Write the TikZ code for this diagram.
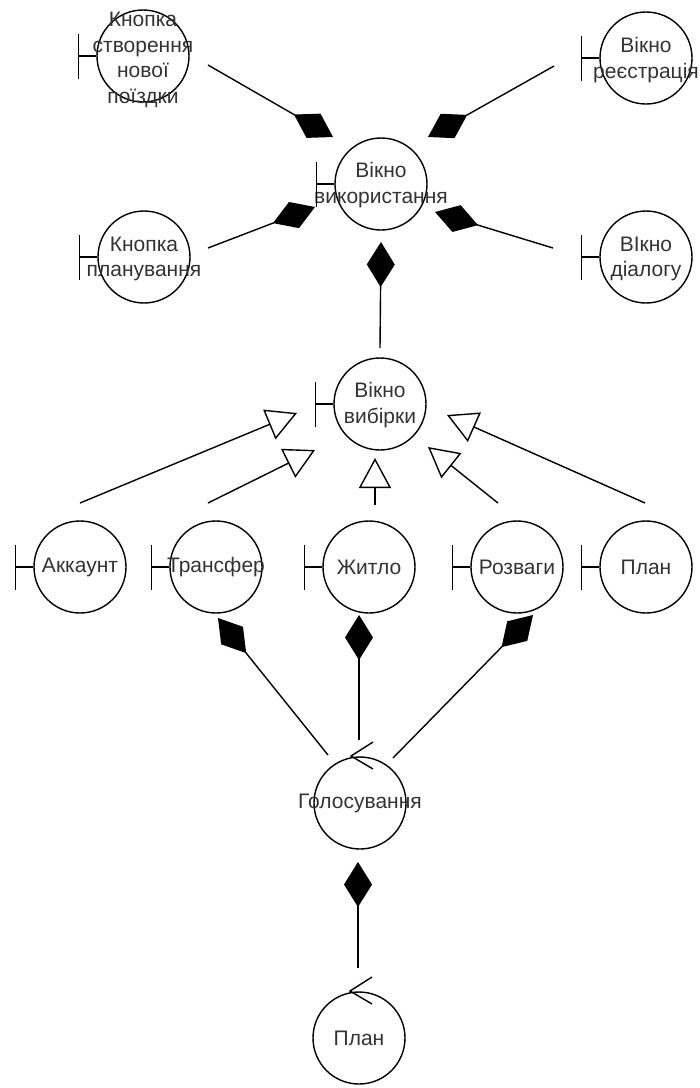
\documentclass[tikz,border=0pt]{standalone}
\usepackage{fontspec}
\setmainfont{Liberation Sans}
\usetikzlibrary{arrows.meta}
\begin{document}
\begin{tikzpicture}[x=1pt,y=-1pt,
  obj/.style={circle, draw=black, line width=1.4pt, minimum size=92pt, inner sep=0pt},
  txt/.style={font=\fontsize{21}{25.5}\selectfont, align=center, text=black!80, inner sep=0pt},
  bar/.style={draw=black, line width=1.4pt},
  comp/.style={draw=black, line width=1.4pt, -{Diamond[length=45pt,width=28pt,fill=black]}},
  gen/.style={draw=black, line width=1.4pt, -{Triangle[open,length=30pt,width=32pt,fill=white]}},
]
\fill[white] (0,0) rectangle (700,1088);
\useasboundingbox (0,0) rectangle (700,1088);

% boundary objects
\node[obj, label={[txt,yshift=-4pt]center:Кнопка\\створення\\нової\\поїздки}] (kn) at (143,56) {};
\node[obj, label={[txt,yshift=-2pt]center:Вікно\\реєстрація}] (vr) at (646,58) {};
\node[obj, label={[txt,yshift=-1pt]center:Вікно\\використання}] (vu) at (381,184) {};
\node[obj, label={[txt,yshift=-2pt]center:Кнопка\\планування}] (kp) at (144,257) {};
\node[obj, label={[txt,yshift=-2pt]center:ВІкно\\діалогу}] (vd) at (646,257) {};
\node[obj, label={[txt,yshift=-1pt]center:Вікно\\вибірки}] (vv) at (380,404) {};
\node[obj, label={[txt]center:Аккаунт}] (ak) at (80,567) {};
\node[obj, label={[txt]center:Трансфер}] (tr) at (216,567) {};
\node[obj, label={[txt]center:Житло}] (zh) at (369,567) {};
\node[obj, label={[txt]center:Розваги}] (rz) at (517,567) {};
\node[obj, label={[txt]center:План}] (pl) at (646,567) {};
% control objects
\node[obj, label={[txt]center:Голосування}] (hol) at (360,803) {};
\node[obj, label={[txt]center:План}] (pl2) at (359,1038) {};

% boundary bars
\foreach \n in {kn,vr,vu,kp,vd,vv,ak,tr,zh,rz,pl} {
  \draw[bar] ([xshift=-18pt]\n.west) -- (\n.west);
  \draw[bar] ([shift={(-18,-22)}]\n.west) -- ([shift={(-18,23)}]\n.west);
}
% control arrows
\foreach \n in {hol,pl2} {
  \draw[bar] ([shift={(13,-61)}]\n.center) -- ([shift={(-9,-47)}]\n.center) -- ([shift={(13,-34)}]\n.center);
}

% compositions
\draw[comp] ([shift={(65,9)}]kn.center) -- ([shift={(-48,-47)}]vu.center);
\draw[comp] ([shift={(-92,8)}]vr.center) -- ([shift={(47,-47)}]vu.center);
\draw[comp] ([shift={(64,-9)}]kp.center) -- ([shift={(-66,23)}]vu.center);
\draw[comp] ([shift={(-93,-9)}]vd.center) -- ([shift={(54,28)}]vu.center);
\draw[comp] ([shift={(0,-56)}]vv.center) -- ([shift={(0,58)}]vu.center);
\draw[comp] ([shift={(-32,-48)}]hol.center) -- ([shift={(2,51)}]tr.center);
\draw[comp] ([shift={(-1,-63)}]hol.center) -- ([shift={(-10,48)}]zh.center);
\draw[comp] ([shift={(33,-45)}]hol.center) -- ([shift={(16,48)}]rz.center);
\draw[comp] ([shift={(-1,-70)}]pl2.center) -- ([shift={(-2,59)}]hol.center);

% generalisations
\draw[gen] ([shift={(0,-64)}]ak.center) -- ([shift={(-83,9)}]vv.center);
\draw[gen] ([shift={(-8,-64)}]tr.center) -- ([shift={(-65,46)}]vv.center);
\draw[gen] ([shift={(6,-62)}]zh.center) -- ([shift={(-5,54)}]vv.center);
\draw[gen] ([shift={(-19,-64)}]rz.center) -- ([shift={(48,43)}]vv.center);
\draw[gen] ([shift={(-1,-64)}]pl.center) -- ([shift={(67,11)}]vv.center);
\end{tikzpicture}
\end{document}
